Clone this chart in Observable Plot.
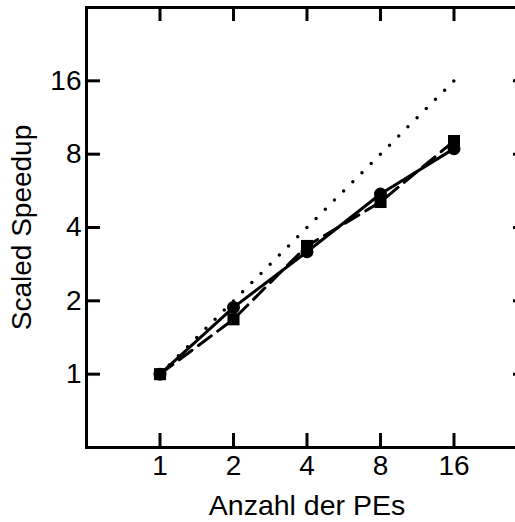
<!DOCTYPE html>
<html><head><meta charset="utf-8">
<script src="https://cdn.jsdelivr.net/npm/d3@7"></script>
<script src="https://cdn.jsdelivr.net/npm/@observablehq/plot@0.6"></script>
<style>html,body{margin:0;padding:0;overflow:hidden;background:#fff} svg{max-width:none !important}</style>
</head><body><div id="chart"></div>
<script>
const pes = [1, 2, 4, 8, 16];
const ideal = [1, 2, 4, 8, 16];
const speedupSolid = [1, 1.88, 3.18, 5.49, 8.43];
const speedupDashed = [1, 1.68, 3.36, 5.09, 9.06];
const xTicks = [1, 2, 4, 8, 16];
const yTicks = [1, 2, 4, 8, 16];
const xDomain = [0.5, 32];
const yDomain = [0.5, 32];
const xLabel = "Anzahl der PEs";
const yLabel = "Scaled Speedup";

const W = 530, H = 522, mL = 86, mR = 3, mT = 7, mB = 75;
const innerW = W - mL - mR, innerH = H - mT - mB;
const tick = 14;
const font = "'Liberation Sans', Arial, sans-serif";

const idealData = pes.map((p, i) => ({p, s: ideal[i]}));
const solidData = pes.map((p, i) => ({p, s: speedupSolid[i]}));
const dashedData = pes.map((p, i) => ({p, s: speedupDashed[i]}));

const chart = Plot.plot({
  width: W, height: H,
  marginLeft: mL, marginRight: mR, marginTop: mT, marginBottom: mB,
  style: {fontFamily: font, background: "white", color: "black", overflow: "hidden", maxWidth: "none"},
  x: {type: "log", base: 2, domain: xDomain},
  y: {type: "log", base: 2, domain: yDomain},
  marks: [
    Plot.ruleX(xTicks, {x: d => d, insetTop: innerH - tick, strokeWidth: 3}),
    Plot.ruleX(xTicks, {x: d => d, insetBottom: innerH - tick, strokeWidth: 3}),
    Plot.ruleY(yTicks, {y: d => d, insetRight: innerW - tick, strokeWidth: 3}),
    Plot.ruleY(yTicks, {y: d => d, insetLeft: innerW - tick, strokeWidth: 3}),
    Plot.axisX({ticks: xTicks, tickSize: 0, tickPadding: 8, fontSize: 28, tickFormat: d => d, label: null}),
    Plot.axisY({ticks: yTicks, tickSize: 0, tickPadding: 5, fontSize: 28, tickFormat: d => d, label: null}),
    Plot.text([xLabel], {frameAnchor: "bottom", dy: 58, fontSize: 28.5, lineAnchor: "middle", textAnchor: "middle", text: d => d}),
    Plot.text([yLabel], {frameAnchor: "left", dx: -64, rotate: -90, fontSize: 28, lineAnchor: "middle", textAnchor: "middle", text: d => d}),
    Plot.frame({strokeWidth: 3}),
    Plot.line(idealData, {x: "p", y: "s", strokeWidth: 3.5, strokeDasharray: "0,12.97", strokeLinecap: "round"}),
    Plot.line(dashedData, {x: "p", y: "s", strokeWidth: 3, strokeDasharray: "16,8"}),
    Plot.dot(dashedData, {x: "p", y: "s", symbol: "square", r: 6.8, fill: "black"}),
    Plot.line(solidData, {x: "p", y: "s", strokeWidth: 3}),
    Plot.dot(solidData, {x: "p", y: "s", symbol: "circle", r: 6.5, fill: "black"})
  ]
});
document.getElementById("chart").appendChild(chart);
</script>
</body></html>
